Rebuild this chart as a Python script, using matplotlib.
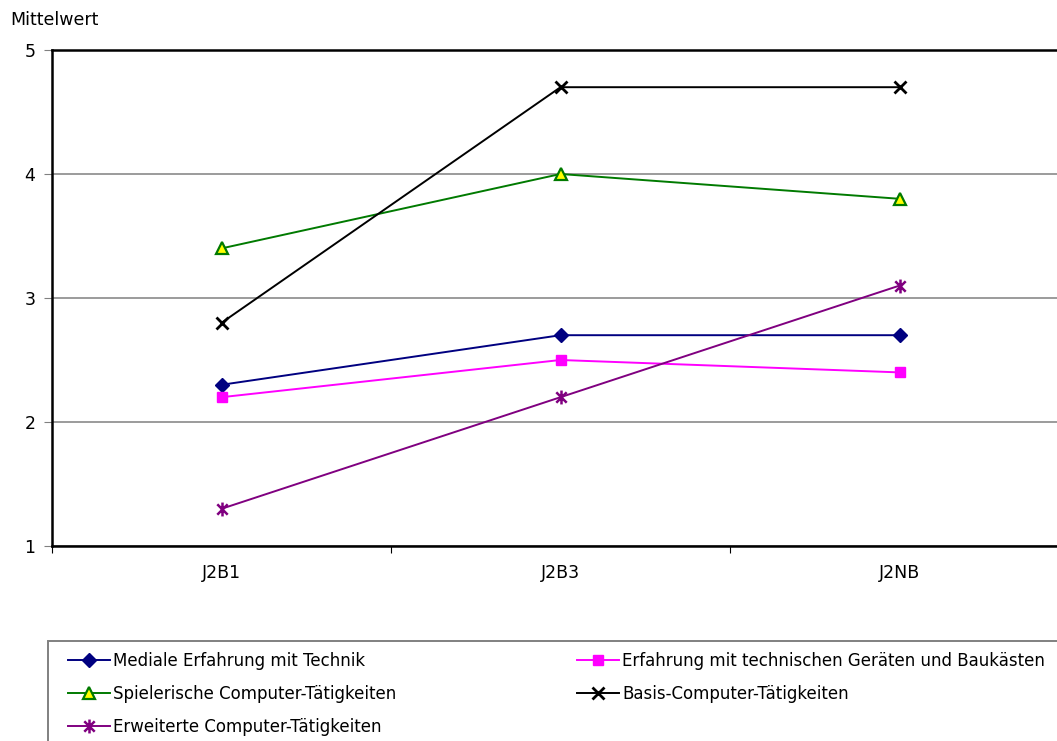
import matplotlib
matplotlib.use("Agg")
import matplotlib.pyplot as plt
from matplotlib.path import Path
from matplotlib.patches import Rectangle

categories = ["J2B1", "J2B3", "J2NB"]
mediale = [2.3, 2.7, 2.7]
erfahrung = [2.2, 2.5, 2.4]
spielerisch = [3.4, 4.0, 3.8]
basis = [2.8, 4.7, 4.7]
erweitert = [1.3, 2.2, 3.1]
series_labels = [
    "Mediale Erfahrung mit Technik",
    "Erfahrung mit technischen Geräten und Baukästen",
    "Spielerische Computer-Tätigkeiten",
    "Basis-Computer-Tätigkeiten",
    "Erweiterte Computer-Tätigkeiten",
]
y_ticks = [1, 2, 3, 4, 5]

# asterisk marker: vertical stroke plus an X
star = Path(
    [(0, -1), (0, 1), (-0.75, -0.75), (0.75, 0.75), (-0.75, 0.75), (0.75, -0.75)],
    [Path.MOVETO, Path.LINETO, Path.MOVETO, Path.LINETO, Path.MOVETO, Path.LINETO],
)

W, H = 1057, 741
fig = plt.figure(figsize=(W / 100, H / 100), dpi=100)
ax = fig.add_axes([52 / W, 1 - 546 / H, (1069 - 52) / W, (546 - 50) / H])

x = [0.5, 1.5, 2.5]
styles = [
    (mediale, dict(color="#000080", marker="D", ms=7, mfc="#000080", mec="#000080")),
    (erfahrung, dict(color="#FF00FF", marker="s", ms=7, mfc="#FF00FF", mec="#FF00FF")),
    (spielerisch, dict(color="#007A00", marker="^", ms=8, mfc="#FFFF00", mec="#007A00", mew=1.6)),
    (basis, dict(color="black", marker="x", ms=9, mew=2)),
    (erweitert, dict(color="#800080", marker=star, ms=10, mew=1.8, mec="#800080")),
]
handles = []
for (vals, st), lab in zip(styles, series_labels):
    (h,) = ax.plot(x, vals, lw=1.4, label=lab, clip_on=False, **st)
    handles.append(h)

ax.set_xlim(0, 3)
ax.set_ylim(1, 5)
ax.set_yticks(y_ticks)
ax.set_yticklabels([str(v) for v in y_ticks], fontsize=12.5)
ax.set_xticks([0, 1, 2, 3])
ax.set_xticklabels([])
ax.set_xticks(x, minor=True)
ax.set_xticklabels(categories, minor=True, fontsize=12.5)
ax.tick_params(axis="x", which="minor", length=0, pad=13)
ax.tick_params(axis="x", which="major", length=5, color="black", direction="out")
ax.tick_params(axis="y", length=6, color="#808080", direction="out", pad=6)

ax.grid(axis="y", color="#808080", lw=1.1)
ax.set_axisbelow(True)
for s in ["left", "bottom", "top", "right"]:
    ax.spines[s].set_color("black")
    ax.spines[s].set_linewidth(1.8)

fig.text(10 / W, 1 - 20 / H, "Mittelwert", fontsize=12.5, va="center", ha="left")

# legend frame running off the right and bottom edges
fig.add_artist(Rectangle((48 / W, -0.05), 1.1, (741 - 641) / H + 0.05,
                         transform=fig.transFigure, fill=False,
                         edgecolor="#808080", lw=1.4))

leg_kw = dict(
    loc="upper left",
    fontsize=12,
    frameon=False,
    handlelength=2.5,
    handletextpad=0.2,
    labelspacing=0.9,
    borderpad=0,
    borderaxespad=0,
)
fig.legend([handles[0], handles[2], handles[4]],
           [series_labels[0], series_labels[2], series_labels[4]],
           bbox_to_anchor=(68 / W, 1 - 652 / H), **leg_kw)
fig.legend([handles[1], handles[3]],
           [series_labels[1], series_labels[3]],
           bbox_to_anchor=(577 / W, 1 - 652 / H), **leg_kw)

fig.savefig("out.png", dpi=100)
